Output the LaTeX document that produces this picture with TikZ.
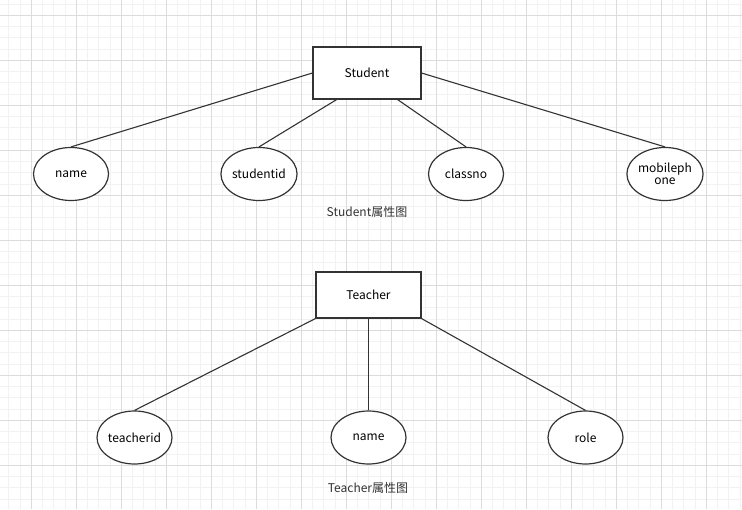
\documentclass[tikz,border=0pt]{standalone}
\usepackage{fontspec}
\setmainfont{Noto Sans CJK SC}
\usetikzlibrary{shapes.geometric,calc}
\definecolor{gmajor}{HTML}{DCDCDC}
\definecolor{gminor}{HTML}{F2F2F2}
\definecolor{ink}{HTML}{333333}
\tikzset{
  entity/.style={draw=ink, line width=1.1pt, fill=white, rectangle, inner sep=0pt, font=\fontsize{12}{14}\selectfont},
  attr/.style={draw=ink, line width=1.2pt, fill=white, ellipse, inner sep=0pt, minimum width=75pt, minimum height=53pt, align=center, font=\fontsize{12}{13}\selectfont},
  link/.style={draw=ink, line width=1.1pt},
  caption/.style={font=\fontsize{12}{14}\selectfont, text=ink, inner sep=0pt}
}
\begin{document}
\begin{tikzpicture}[x=1pt,y=-1pt]
\useasboundingbox (0,0) rectangle (742,509);
\fill[white] (0,0) rectangle (742,509);
% minor grid
\foreach \i in {0,...,66} {
  \pgfmathsetmacro{\xx}{8.5+11.25*\i}
  \draw[gminor, line width=0.5pt] (\xx,0) -- (\xx,509);
}
\foreach \i in {0,...,46} {
  \pgfmathsetmacro{\yy}{3.75+11.25*\i}
  \draw[gminor, line width=0.5pt] (0,\yy) -- (742,\yy);
}
% major grid
\foreach \i in {0,...,16} {
  \pgfmathsetmacro{\xx}{31+45*\i}
  \draw[gmajor, line width=0.7pt] (\xx,0) -- (\xx,509);
}
\foreach \i in {0,...,11} {
  \pgfmathsetmacro{\yy}{15+45*\i}
  \draw[gmajor, line width=0.7pt] (0,\yy) -- (742,\yy);
}
% Student diagram
\node[entity, minimum width=108pt, minimum height=52pt] (student) at (367,73) {Student};
\node[attr] (sname) at (71,174) {name};
\node[attr] (sid) at (259,174) {studentid};
\node[attr] (cls) at (466,174) {classno};
\node[attr, font=\fontsize{12}{12}\selectfont] (mob) at (665,174) {mobileph\\one};
\draw[link] (student.west) -- (sname.north);
\draw[link] ($(student.south west)!0.222!(student.south east)$) -- (sid.north);
\draw[link] ($(student.south west)!0.78!(student.south east)$) -- (cls.north);
\draw[link] (student.east) -- (mob.north);
\node[caption] (scap) at (367,212) {Student属性图};
% Teacher diagram
\node[entity, minimum width=105pt, minimum height=46pt] (teacher) at (368.5,295) {Teacher};
\node[attr] (tid) at (134.5,437.5) {teacherid};
\node[attr] (tname) at (368.5,437.5) {name};
\node[attr] (role) at (585.5,437.5) {role};
\draw[link] (teacher.south west) -- (tid.north);
\draw[link] (teacher.south) -- (tname.north);
\draw[link] (teacher.south east) -- (role.north);
\node[caption] (tcap) at (368,488) {Teacher属性图};
\end{tikzpicture}
\end{document}
